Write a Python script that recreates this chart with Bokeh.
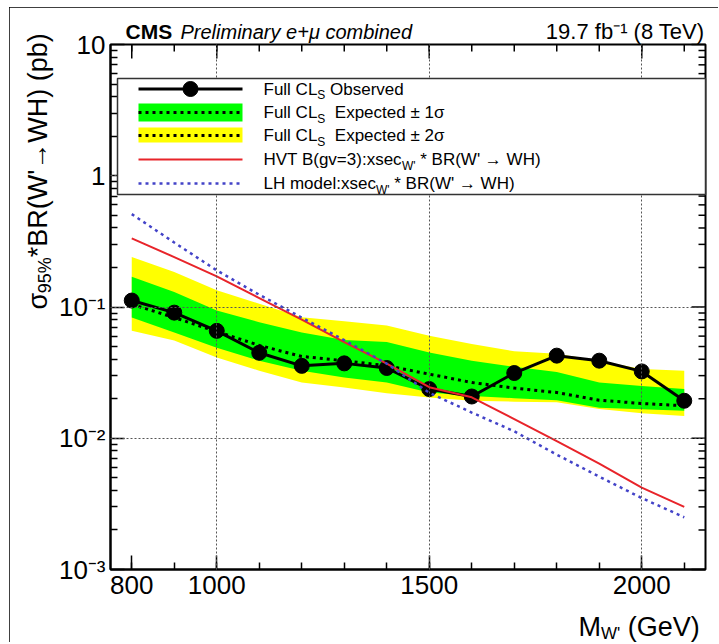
import math
from bokeh.plotting import figure
from bokeh.models import Range1d, LinearScale, FixedTicker, CustomJSTickFormatter
from bokeh.core.properties import value
from bokeh.embed import file_html
from bokeh.resources import INLINE

# ---------------- data ----------------
mass = [800, 900, 1000, 1100, 1200, 1300, 1400, 1500, 1600, 1700, 1800, 1900, 2000, 2100]
observed = [0.112, 0.0906, 0.0658, 0.0448, 0.0356, 0.0372, 0.0343, 0.0237, 0.0208, 0.0314,
            0.0426, 0.0390, 0.0323, 0.0193]
expected = [0.105, 0.083, 0.065, 0.051, 0.042, 0.039, 0.0357, 0.0308, 0.0266, 0.0241,
            0.0223, 0.0195, 0.0184, 0.0177]
exp_1s_lo = [0.083, 0.064, 0.049, 0.039, 0.0327, 0.029, 0.0266, 0.0223, 0.021, 0.0202,
             0.0195, 0.0171, 0.0166, 0.0162]
exp_1s_hi = [0.170, 0.130, 0.094, 0.0766, 0.064, 0.056, 0.054, 0.0451, 0.039, 0.035,
             0.032, 0.0266, 0.025, 0.0237]
exp_2s_lo = [0.066, 0.0555, 0.0413, 0.0327, 0.0266, 0.0244, 0.022, 0.0204, 0.0193, 0.019,
             0.0188, 0.0167, 0.0155, 0.0148]
exp_2s_hi = [0.240, 0.185, 0.134, 0.106, 0.0836, 0.078, 0.0722, 0.0605, 0.0523, 0.046,
             0.044, 0.039, 0.0337, 0.0327]
hvt_xsec = [0.333, 0.240, 0.171, 0.117, 0.080, 0.054, 0.037, 0.0245, 0.0205, 0.0140,
            0.0095, 0.0064, 0.0042, 0.0030]
lh_xsec = [0.51, 0.31, 0.19, 0.124, 0.083, 0.056, 0.037, 0.0222, 0.0157, 0.0113,
           0.0075, 0.0051, 0.0035, 0.0025]

x_ticks = [800, 1000, 1500, 2000]
x_minor = [800, 900, 1000, 1100, 1200, 1300, 1400, 1500, 1600, 1700, 1800, 1900, 2000, 2100]
x_grid = [1000, 1500, 2000]
y_ticks = [0.001, 0.01, 0.1, 1, 10]
y_tick_labels = ["10\u207b\u00b3", "10\u207b\u00b2", "10\u207b\u00b9", "1", "10"]
y_grid = [0.01, 0.1, 1]
y_minor = [k * 10.0 ** e for e in range(-3, 1) for k in range(2, 10)]

legend_main = ["Full CL", "Full CL", "Full CL", "HVT B(gv=3):xsec", "LH model:xsec"]
legend_sub = ["S", "S", "S", "W'", "W'"]
legend_gap = [1, 2, 2, 1, 1]   # number of spaces after the subscript
legend_rest = ["Observed", "Expected \u00b1 1\u03c3", "Expected \u00b1 2\u03c3",
               "* BR(W' \u2192 WH)", "* BR(W' \u2192 WH)"]

FONT = "Liberation Sans"

# page-pixel -> frame helpers (frame spans page x 110..705, y 44..569)
FX0, FX1, FY0, FY1 = 110.0, 705.0, 44.0, 569.0
OFFX, OFFY = 9, 7   # figure offset on the page


def fx(px):
    return (px - FX0) / (FX1 - FX0)


def fy(py):
    return (FY1 - py) / (FY1 - FY0)


EM = {'F': .611, 'u': .556, 'l': .222, ' ': .278, 'C': .722, 'L': .556, 'S': .667, 'H': .722,
      'V': .667, 'T': .611, 'B': .667, '(': .333, ')': .333, 'g': .556, 'v': .5, '=': .584,
      '3': .556, ':': .278, 'x': .5, 's': .5, 'e': .556, 'c': .5, 'W': .944, "'": .191,
      'M': .833, 'o': .556, 'd': .556, 'm': .833, 'G': .778, '*': .389, 'R': .722,
      '\u2192': 1.0, '9': .556, '5': .556, '%': .889, '\u03c3': .6}


def tw(s, size):
    return sum(EM.get(c, 0.556) for c in s) * size


W, H = 709, 635
p = figure(width=W, height=H, x_range=Range1d(750, 2150), y_range=Range1d(0.001, 10),
           y_axis_type="log", output_backend="svg", toolbar_location=None,
           min_border_left=int(FX0 - OFFX), min_border_right=int(W - (FX1 - OFFX)),
           min_border_top=int(FY0 - OFFY), min_border_bottom=int(H - (FY1 - OFFY)),
           background_fill_color="white", border_fill_color="white",
           styles={"margin-left": f"{OFFX}px", "margin-top": f"{OFFY}px",
                   "outline": "2px solid black", "outline-offset": "-2px"})
p.extra_x_ranges = {"fx": Range1d(0, 1)}
p.extra_y_ranges = {"fy": Range1d(0, 1)}
p.extra_x_scales = {"fx": LinearScale()}
p.extra_y_scales = {"fy": LinearScale()}

p.outline_line_color = "black"
p.outline_line_width = 2

xt = FixedTicker(ticks=x_ticks, minor_ticks=x_minor)
yt = FixedTicker(ticks=y_ticks, minor_ticks=y_minor)
yfmt = CustomJSTickFormatter(args=dict(vals=y_ticks, labs=y_tick_labels), code="""
for (let i = 0; i < vals.length; i++) {
  if (Math.abs(Math.log10(tick) - Math.log10(vals[i])) < 1e-6) { return labs[i]; }
}
return "";
""")

MAJ, MIN = 14, 7
for ax in (p.xaxis[0], p.yaxis[0]):
    ax.major_tick_in = MAJ
    ax.major_tick_out = 0
    ax.minor_tick_in = MIN
    ax.minor_tick_out = 0
    ax.axis_line_width = 2
    ax.axis_line_color = "black"
    ax.major_tick_line_width = 1.5
    ax.minor_tick_line_width = 1.5
    ax.major_tick_line_color = "black"
    ax.minor_tick_line_color = "black"
    ax.major_label_text_font = FONT
    ax.major_label_text_font_size = "26px"
    ax.major_label_text_color = "black"
p.xaxis[0].ticker = xt
p.xaxis[0].major_label_standoff = 6
p.yaxis[0].ticker = yt
p.yaxis[0].formatter = yfmt
p.yaxis[0].major_label_standoff = 5

p.xgrid.ticker = FixedTicker(ticks=x_grid)
p.ygrid.ticker = FixedTicker(ticks=y_grid)
for g in (p.xgrid[0], p.ygrid[0]):
    g.grid_line_color = "#555555"
    g.grid_line_dash = "2 2"
    g.grid_line_width = 1
    g.level = "guide"

# ---------------- data marks ----------------
p.varea(x=mass, y1=exp_2s_lo, y2=exp_2s_hi, fill_color="#ffff00")
p.varea(x=mass, y1=exp_1s_lo, y2=exp_1s_hi, fill_color="#00ff00")
p.line(mass, expected, line_color="black", line_width=3, line_dash="3 4")
p.line(mass, observed, line_color="black", line_width=3)
p.scatter(mass, observed, size=15, fill_color="black", line_color="black")
p.line(mass, hvt_xsec, line_color="#e8242a", line_width=2)
p.line(mass, lh_xsec, line_color="#4343c8", line_width=2.5, line_dash="3 4")

# ---------------- ticks on the top and right frame edges ----------------
fh = MAJ / (FY1 - FY0)
fhm = MIN / (FY1 - FY0)
fw = MAJ / (FX1 - FX0)
fwm = MIN / (FX1 - FX0)
TK = dict(line_color="black", line_width=1.5, level="guide")
p.segment(x0=x_ticks, x1=x_ticks, y0=[1.0] * len(x_ticks), y1=[1.0 - fh] * len(x_ticks),
          y_range_name="fy", **TK)
p.segment(x0=x_minor, x1=x_minor, y0=[1.0] * len(x_minor), y1=[1.0 - fhm] * len(x_minor),
          y_range_name="fy", **TK)
p.segment(x0=[1.0] * len(y_ticks), x1=[1.0 - fw] * len(y_ticks), y0=y_ticks, y1=y_ticks,
          x_range_name="fx", **TK)
p.segment(x0=[1.0] * len(y_minor), x1=[1.0 - fwm] * len(y_minor), y0=y_minor, y1=y_minor,
          x_range_name="fx", **TK)

# ---------------- legend ----------------
LG = dict(x_range_name="fx", y_range_name="fy", level="annotation")
p.quad(left=fx(117), right=fx(705), top=fy(78), bottom=fy(194), fill_color="white",
       line_color="#333333", line_width=1.5, **LG)
rows = [88.5, 112, 135, 159, 183]
sx0, sx1 = 138, 242
p.quad(left=fx(sx0), right=fx(sx1), top=fy(103), bottom=fy(121), fill_color="#00ff00",
       line_color=None, **LG)
p.quad(left=fx(sx0), right=fx(sx1), top=fy(127), bottom=fy(142), fill_color="#ffff00",
       line_color=None, **LG)
p.line([fx(sx0), fx(sx1)], [fy(rows[0])] * 2, line_color="black", line_width=3, **LG)
p.scatter([fx(190)], [fy(rows[0])], size=15, fill_color="black", line_color="black", **LG)
p.line([fx(sx0), fx(sx1)], [fy(rows[1])] * 2, line_color="black", line_width=3,
       line_dash="3 4", **LG)
p.line([fx(sx0), fx(sx1)], [fy(rows[2])] * 2, line_color="black", line_width=3,
       line_dash="3 4", **LG)
p.line([fx(sx0), fx(sx1)], [fy(rows[3])] * 2, line_color="#e8242a", line_width=2, **LG)
p.line([fx(sx0), fx(sx1)], [fy(rows[4])] * 2, line_color="#4343c8", line_width=2.5,
       line_dash="3 4", **LG)


def gtext(px, py, text, size, align="left", style="normal", angle=0.0):
    p.text([fx(px)], [fy(py)], text=[text], text_font=value(FONT),
           text_font_size=f"{size}px", text_font_style=style, text_align=align,
           text_baseline="middle", text_color="black", angle=angle,
           x_range_name="fx", y_range_name="fy", level="overlay")


LFS, LSS = 17, 12
tx = 263
for i, ry in enumerate(rows):
    x1 = tx + tw(legend_main[i], LFS)
    x2 = x1 + tw(legend_sub[i], LSS) + legend_gap[i] * tw(" ", LFS)
    gtext(tx, ry, legend_main[i], LFS)
    gtext(x1, ry + 6, legend_sub[i], LSS)
    gtext(x2, ry, legend_rest[i], LFS)

# header
gtext(125, 31, "CMS", 21, style="bold")
gtext(180, 31, "Preliminary e+\u03bc combined", 20, style="italic")
gtext(704, 31, "19.7 fb\u207b\u00b9 (8 TeV)", 22, align="right")

# x-axis title: M_W' (GeV)
XS, XSS = 27, 17
mx = 578
gtext(mx, 626, "M", XS)
wx = mx + tw("M", XS)
gtext(wx, 633, "W'", XSS)
gtext(wx + tw("W'", XSS) + tw(" ", XS), 626, "(GeV)", XS)

# y-axis title: sigma_95% *BR(W'->WH) (pb), rotated
YS, YSS = 27, 18
yb = 309
gtext(37, yb, "\u03c3", YS, angle=math.pi / 2)
y2 = yb - tw("\u03c3", YS)
gtext(44, y2, "95%", YSS, angle=math.pi / 2)
y3 = y2 - tw("95%", YSS)
gtext(37, y3, "*BR(W'\u2192WH) (pb)", YS, angle=math.pi / 2)

open("out.html", "w").write(file_html(p, INLINE))
